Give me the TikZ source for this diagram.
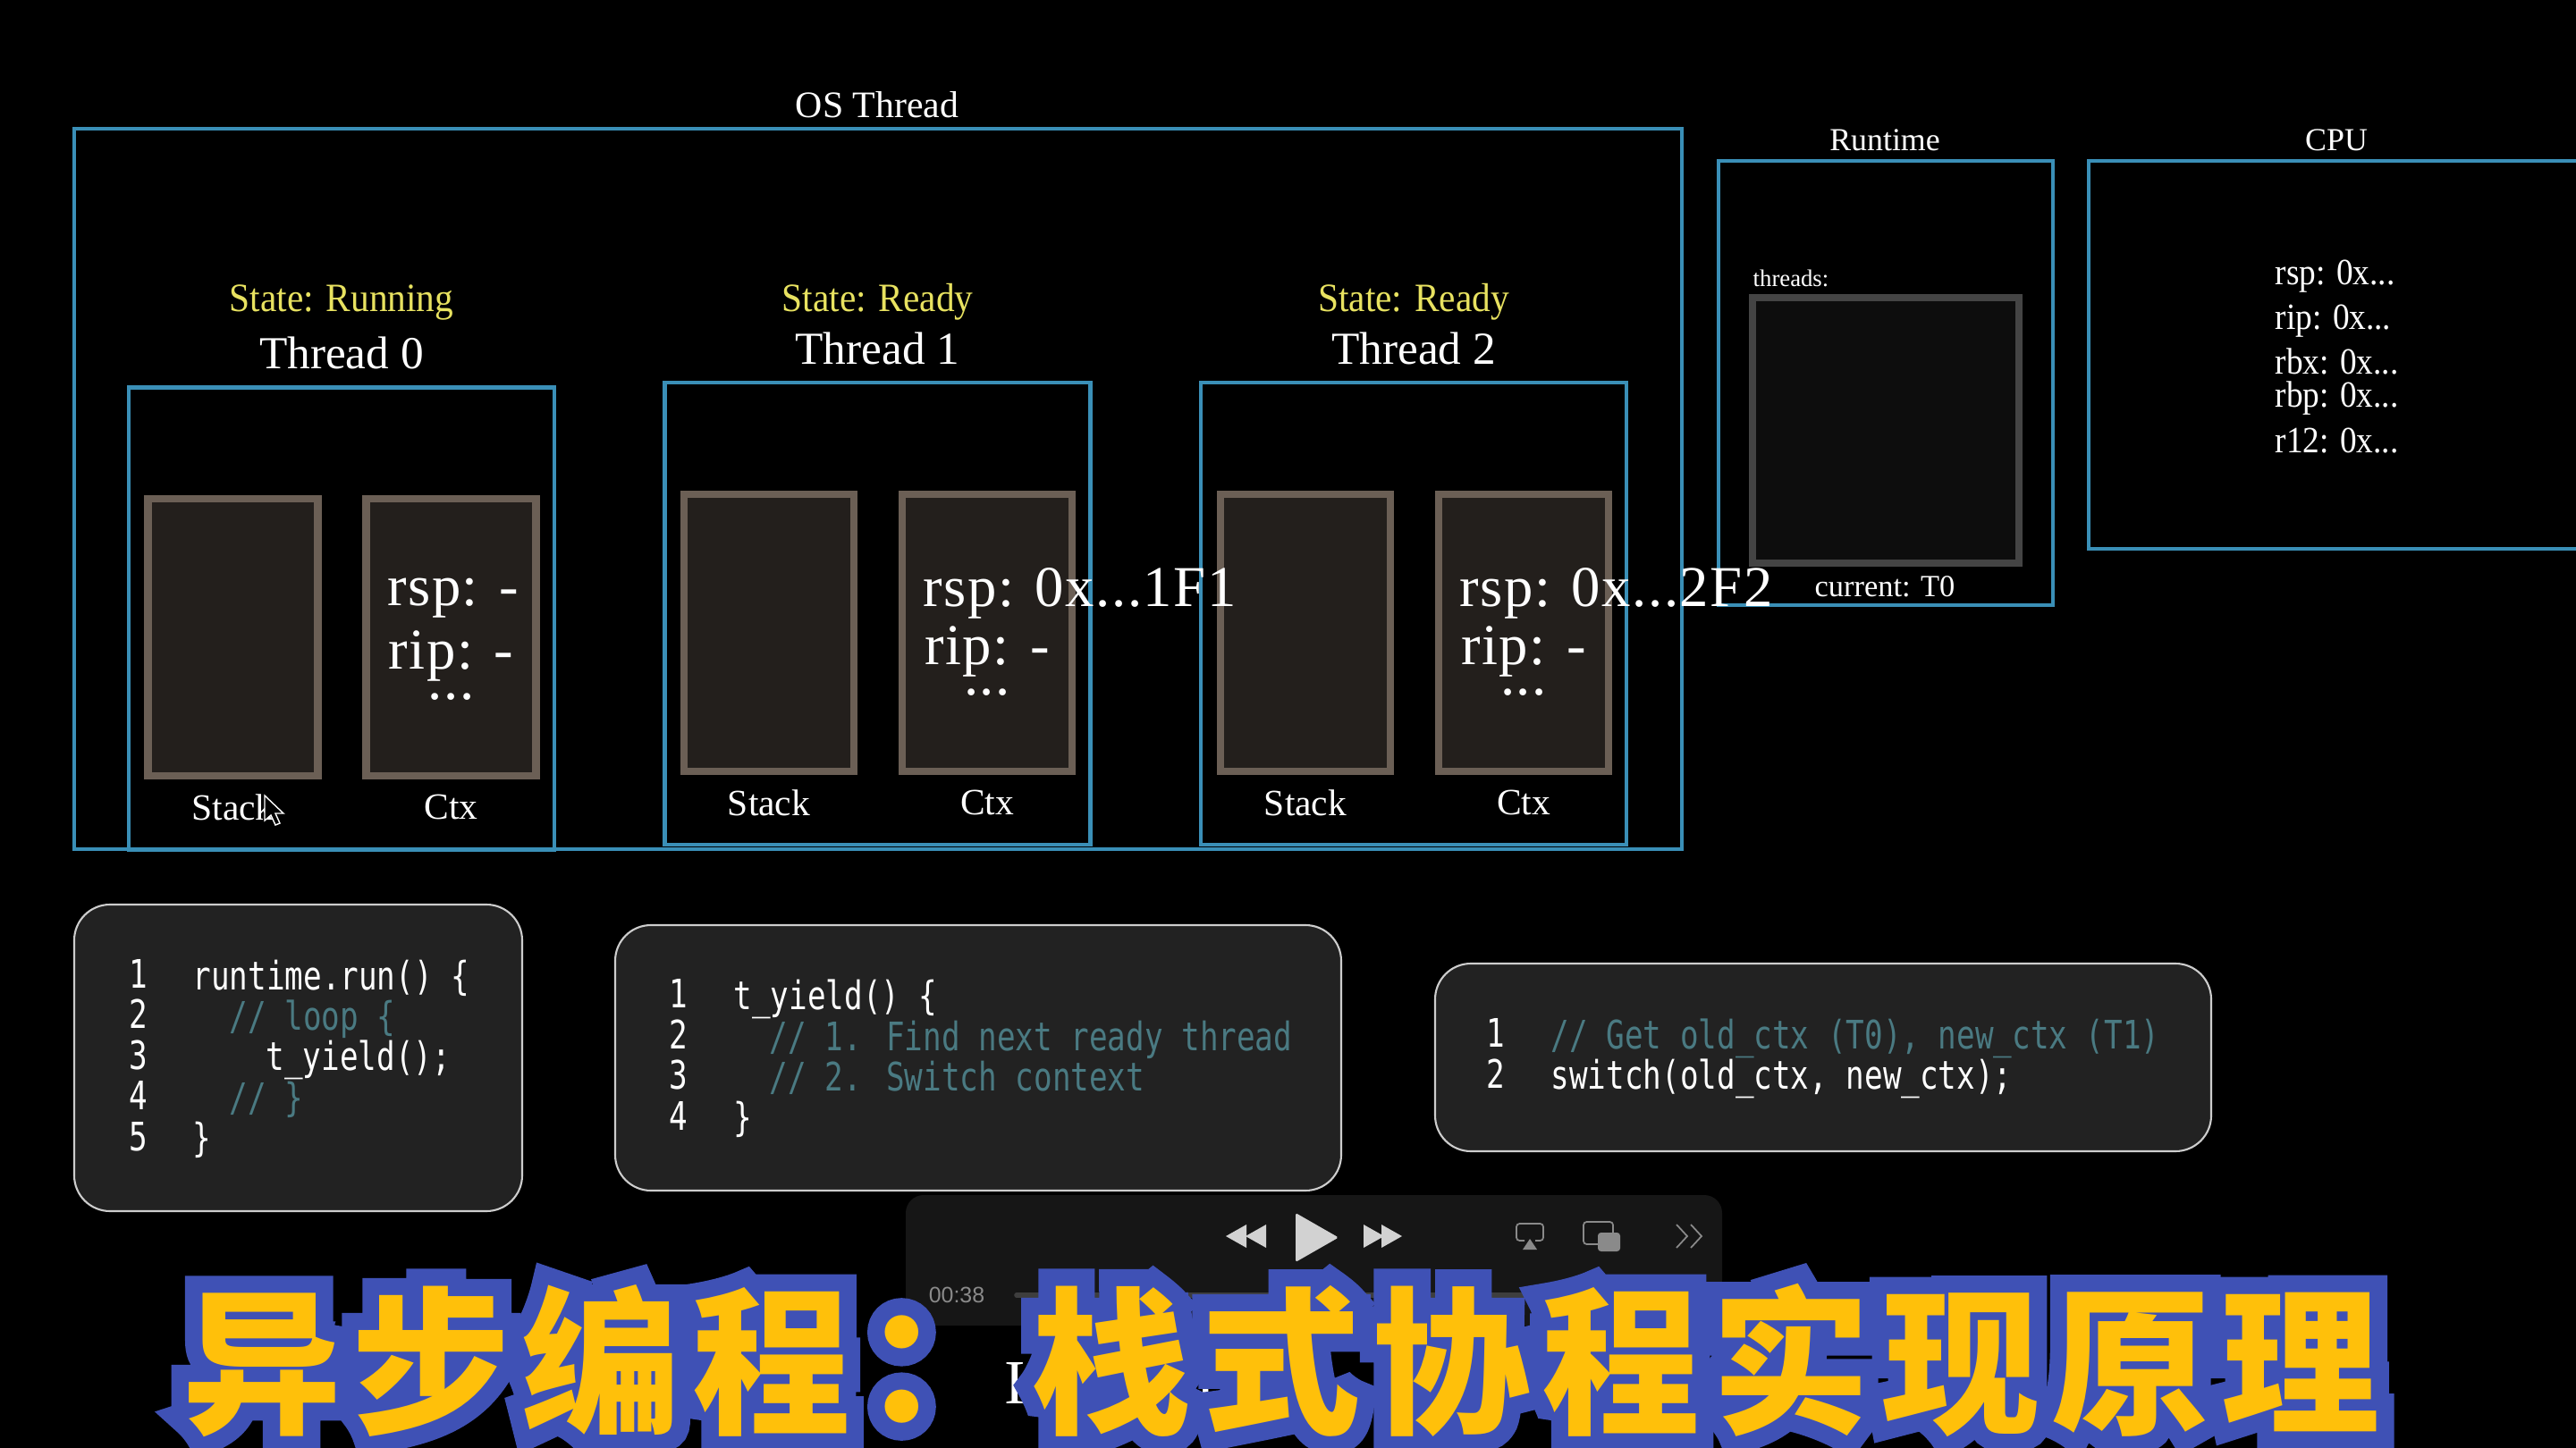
\documentclass[tikz,border=0pt]{standalone}
\usepackage{xcolor}
\usepackage{fontspec}
\usetikzlibrary{positioning}
\setmainfont{Liberation Serif}
\newfontfamily\codefont[FakeStretch=0.78]{DejaVu Sans Mono}
\newfontfamily\playerfont{Liberation Sans}
\newfontfamily\statefont[FakeStretch=0.92]{Liberation Serif}
\newfontfamily\regfont[LetterSpace=2.4]{Liberation Serif}
\newfontfamily\cpufont[FakeStretch=0.9]{Liberation Serif}
\newfontfamily\titlefont[LetterSpace=7.3]{Noto Sans CJK SC}
\newfontfamily\titleedge[LetterSpace=7.3,FakeBold=22]{Noto Sans CJK SC}
\definecolor{panelblue}{RGB}{58,143,183}
\definecolor{cellfill}{RGB}{35,31,28}
\definecolor{celledge}{RGB}{107,95,85}
\definecolor{listfill}{RGB}{13,13,13}
\definecolor{listedge}{RGB}{68,68,68}
\definecolor{statey}{RGB}{232,226,96}
\definecolor{codefill}{RGB}{34,34,34}
\definecolor{codeedge}{RGB}{205,205,205}
\definecolor{commentc}{RGB}{74,122,130}
\definecolor{playerbg}{RGB}{22,22,22}
\definecolor{playerc}{RGB}{210,210,210}
\definecolor{playerdim}{RGB}{138,138,138}
\definecolor{playerbar}{RGB}{62,62,62}
\definecolor{titley}{RGB}{255,192,10}
\definecolor{titleb}{RGB}{63,81,181}

\begin{document}
\begin{tikzpicture}[
    node distance=1.9cm and 2.44cm,
    panel/.style={rectangle, draw=panelblue, line width=1.3pt, inner sep=0pt},
    threadbox/.style={panel, minimum width=4.76cm, minimum height=5.17cm},
    cell/.style={rectangle, draw=celledge, fill=cellfill, line width=2.3pt, minimum width=1.9cm, minimum height=3.1cm},
    codebox/.style={rectangle, draw=codeedge, fill=codefill, line width=0.6pt, rounded corners=0.4cm},
    head/.style={text=white, inner sep=0pt, font=\fontsize{11.9}{14}\selectfont},
    statelabel/.style={text=statey, inner sep=0pt, font=\statefont\fontsize{12.8}{14}\selectfont},
    threadlabel/.style={text=white, inner sep=0pt, font=\fontsize{14.6}{16}\selectfont},
    cellabel/.style={text=white, inner sep=0pt, font=\fontsize{11.8}{14}\selectfont},
    regtext/.style={text=white, inner sep=0pt, font=\regfont\fontsize{18.4}{20}\selectfont},
    smalltext/.style={text=white, inner sep=0pt, font=\fontsize{9.8}{12}\selectfont},
    cputext/.style={text=white, inner sep=0pt, anchor=west, font=\cpufont\fontsize{11.8}{13}\selectfont},
    code/.style={text=white, inner sep=0pt, anchor=base west, font=\codefont\fontsize{12.5}{14}\selectfont},
    comment/.style={code, text=commentc},
    hidden/.style={text=white, inner sep=0pt, font=\fontsize{20}{22}\selectfont},
    icon/.style={fill=playerc, draw=none},
    iconline/.style={draw=playerdim, line width=0.5pt}
]
\useasboundingbox[fill=black] (0,0) rectangle (28.81,-16.2);
\clip (0,0) rectangle (28.81,-16.2);

% Outer boxes
\node[panel, minimum width=17.98cm, minimum height=8.06cm] (osthread) at (9.82,-5.47) {};
\node[panel, minimum width=3.74cm, minimum height=4.97cm] (runtime) at (21.09,-4.285) {};
\node[panel, minimum width=7cm, minimum height=4.34cm] (cpu) at (26.86,-3.97) {};

\node[head] (oslabel) at (9.81,-1.17) {OS Thread};
\node[smalltext, font=\fontsize{10.2}{12}\selectfont] (rtlabel) at (21.08,-1.57) {Runtime};
\node[smalltext, font=\fontsize{10.2}{12}\selectfont] (cpulabel) at (26.13,-1.57) {CPU};

% Thread 0
\node[threadbox] (thread0) at (3.82,-6.92) {};
\node[threadlabel, above of=thread0, node distance=2.97cm] (name0) {Thread 0};
\node[statelabel, above of=thread0, node distance=3.54cm] (state0) {State: Running};
\node[cell] (stack0) at (2.605,-7.13) {};
\node[cell, right of=stack0, node distance=2.44cm] (ctx0) {};
\node[cellabel, below of=stack0] (slabel0) {Stack};
\node[cellabel, below of=ctx0] (clabel0) {Ctx};
\node[regtext, anchor=west] (rsp0) at ([xshift=-0.72cm,yshift=0.44cm]ctx0.center) {rsp: -};
\node[regtext] (rip0) at ([yshift=-0.21cm]ctx0.center) {rip: -};
\node[regtext] (dots0) at ([yshift=-0.67cm]ctx0.center) {...};

% Thread 1
\node[threadbox] (thread1) at (9.815,-6.865) {};
\node[threadlabel, above of=thread1, node distance=2.97cm] (name1) {Thread 1};
\node[statelabel, above of=thread1, node distance=3.49cm] (state1) {State: Ready};
\node[cell] (stack1) at (8.6,-7.08) {};
\node[cell, right of=stack1, node distance=2.44cm] (ctx1) {};
\node[cellabel, below of=stack1] (slabel1) {Stack};
\node[cellabel, below of=ctx1] (clabel1) {Ctx};
\node[regtext] (rip1) at ([yshift=-0.21cm]ctx1.center) {rip: -};
\node[regtext] (dots1) at ([yshift=-0.67cm]ctx1.center) {...};

% Thread 2
\node[threadbox] (thread2) at (15.81,-6.865) {};
\node[threadlabel, above of=thread2, node distance=2.97cm] (name2) {Thread 2};
\node[statelabel, above of=thread2, node distance=3.49cm] (state2) {State: Ready};
\node[cell] (stack2) at (14.6,-7.08) {};
\node[cell, right of=stack2, node distance=2.44cm] (ctx2) {};
\node[cellabel, below of=stack2] (slabel2) {Stack};
\node[cellabel, below of=ctx2] (clabel2) {Ctx};
\node[regtext] (rip2) at ([yshift=-0.21cm]ctx2.center) {rip: -};
\node[regtext] (dots2) at ([yshift=-0.67cm]ctx2.center) {...};

% Mouse pointer over the first label
\draw[fill=black, draw=white, line width=0.4pt] (2.96,-8.9) coordinate (ptr) -- ++(0,-0.28) -- ++(0.07,0.06) -- ++(0.05,-0.11) -- ++(0.05,0.02) -- ++(-0.05,0.11) -- ++(0.09,0) -- cycle;

% Runtime
\node[rectangle, draw=listedge, fill=listfill, line width=2.3pt, minimum width=2.98cm, minimum height=2.97cm] (threads) at (21.09,-4.815) {};
\node[smalltext, font=\fontsize{7.6}{9}\selectfont, anchor=west] (tlabel) at (19.6,-3.11) {threads:};
\node[smalltext] (current) at (21.08,-6.56) {current: T0};

% Long values run over their boxes
\node[regtext, anchor=west] (rsp1) at ([xshift=-0.72cm,yshift=0.44cm]ctx1.center) {rsp: 0x...1F1};
\node[regtext, anchor=west] (rsp2) at ([xshift=-0.72cm,yshift=0.44cm]ctx2.center) {rsp: 0x...2F2};

% CPU registers
\node[cputext] (crsp) at (25.44,-3.09) {rsp: 0x...};
\node[cputext] (crip) at (25.44,-3.59) {rip: 0x...};
\node[cputext] (crbx) at (25.44,-4.04) {rbx: 0x...};
\node[cputext] (crbp) at (25.44,-4.46) {rbp: 0x...};
\node[cputext] (cr12) at (25.44,-4.93) {r12: 0x...};

% Code listings
\node[codebox, minimum width=5.01cm, minimum height=3.43cm] (code1) at (3.335,-11.835) {};
\node[codebox, minimum width=8.12cm, minimum height=2.97cm] (code2) at (10.94,-11.835) {};
\node[codebox, minimum width=8.68cm, minimum height=2.1cm] (code3) at (20.39,-11.83) {};

\node[code] (n11) at (1.44,-11.05) {1};
\node[code] (n12) at (1.44,-11.5) {2};
\node[code] (n13) at (1.44,-11.96) {3};
\node[code] (n14) at (1.44,-12.41) {4};
\node[code] (n15) at (1.44,-12.87) {5};
\node[code] (l11) at (2.15,-11.07) {runtime.run() \{};
\node[comment] (l12) at (2.56,-11.52) {// loop \{};
\node[code] (l13) at (2.97,-11.97) {t\_yield();};
\node[comment] (l14) at (2.56,-12.43) {// \}};
\node[code] (l15) at (2.15,-12.88) {\}};

\node[code] (n21) at (7.48,-11.27) {1};
\node[code] (n22) at (7.48,-11.73) {2};
\node[code] (n23) at (7.48,-12.18) {3};
\node[code] (n24) at (7.48,-12.64) {4};
\node[code] (l21) at (8.2,-11.29) {t\_yield() \{};
\node[comment] (l22) at (8.6,-11.75) {// 1. Find next ready thread};
\node[comment] (l23) at (8.6,-12.2) {// 2. Switch context};
\node[code] (l24) at (8.2,-12.65) {\}};

\node[code] (n31) at (16.62,-11.71) {1};
\node[code] (n32) at (16.62,-12.17) {2};
\node[comment] (l31) at (17.34,-11.73) {// Get old\_ctx (T0), new\_ctx (T1)};
\node[code] (l32) at (17.34,-12.18) {switch(old\_ctx, new\_ctx);};

% Player bar
\node[rectangle, fill=playerbg, rounded corners=0.2cm, minimum width=9.13cm, minimum height=1.46cm] (player) at (14.695,-14.1) {};
\node[text=playerdim, inner sep=0pt, font=\playerfont\fontsize{7.1}{9}\selectfont] (ptime) at (10.7,-14.49) {00:38};
\draw[line width=1.6pt, line cap=round, color=playerbar] (11.37,-14.49) coordinate (pstart) -- (18.8,-14.49) coordinate (pend);
\fill[icon] (13.71,-13.83) -- (13.94,-13.7) -- (13.94,-13.96) -- cycle;
\fill[icon] (13.93,-13.83) -- (14.16,-13.7) -- (14.16,-13.96) -- cycle;
\fill[icon, rounded corners=0.5pt] (14.49,-13.57) -- (14.97,-13.845) -- (14.49,-14.12) -- cycle;
\fill[icon] (15.25,-13.7) -- (15.48,-13.83) -- (15.25,-13.96) -- cycle;
\fill[icon] (15.45,-13.7) -- (15.68,-13.83) -- (15.45,-13.96) -- cycle;
\draw[iconline, rounded corners=1pt] (17.05,-13.88) -- (16.96,-13.88) -- (16.96,-13.69) -- (17.26,-13.69) -- (17.26,-13.88) -- (17.17,-13.88);
\fill[playerdim] (17.03,-13.98) -- (17.11,-13.86) -- (17.19,-13.98) -- cycle;
\draw[iconline, rounded corners=1pt] (17.71,-13.67) rectangle (18.04,-13.92);
\fill[playerdim, rounded corners=1pt] (17.87,-13.79) rectangle (18.12,-14.0);
\draw[iconline] (18.75,-13.7) -- (18.87,-13.83) -- (18.75,-13.96);
\draw[iconline] (18.91,-13.7) -- (19.03,-13.83) -- (18.91,-13.96);

% Text behind the title
\node[hidden] (frag1) at (11.35,-15.47) {I};
\node[hidden] (frag2) at (13.47,-15.47) {5:};
\node[hidden] (frag3) at (14.22,-15.47) {/};

% Title
\begin{scope}[miter limit=2]
\node[text=titleb, inner sep=0pt, anchor=center, font=\titleedge\bfseries\fontsize{50.4}{52}\selectfont] (titleback) at (14.33,-15.22) {异步编程：栈式协程实现原理};
\end{scope}
\node[text=titley, inner sep=0pt, anchor=center, font=\titlefont\bfseries\fontsize{50.4}{52}\selectfont] (title) at (14.33,-15.22) {异步编程：栈式协程实现原理};

\end{tikzpicture}
\end{document}
